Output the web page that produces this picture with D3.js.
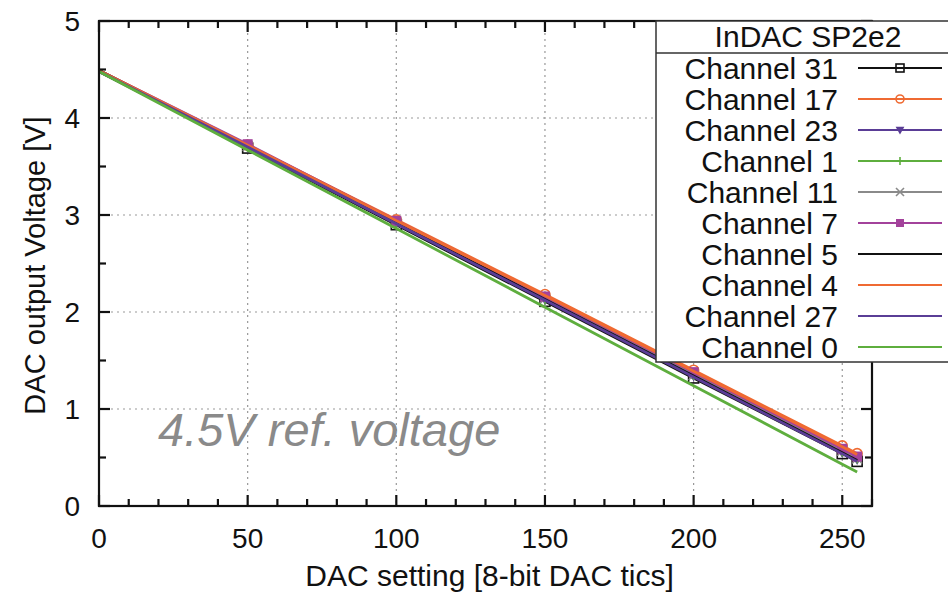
<!DOCTYPE html>
<html>
<head>
<meta charset="utf-8">
<script src="https://cdn.jsdelivr.net/npm/d3@7"></script>
<style>
  body { margin: 0; background: #fff; }
  svg { display: block; font-family: "Liberation Sans", Arial, Helvetica, sans-serif; }
</style>
</head>
<body>
<svg id="chart" width="948" height="595"></svg>
<script>
// DAC settings where the voltage was measured
const dacSettings = [0, 50, 100, 150, 200, 250, 255];

// measured output voltage [V] per channel, in legend order
const channelNames = ['Channel 31', 'Channel 17', 'Channel 23', 'Channel 1', 'Channel 11',
  'Channel 7', 'Channel 5', 'Channel 4', 'Channel 27', 'Channel 0'];
const ch31 = [4.49, 3.69, 2.90, 2.11, 1.32, 0.54, 0.46];
const ch17 = [4.49, 3.72, 2.95, 2.18, 1.40, 0.62, 0.54];
const ch23 = [4.48, 3.70, 2.91, 2.13, 1.34, 0.55, 0.48];
const ch1 = [4.48, 3.70, 2.92, 2.13, 1.35, 0.56, 0.49];
const ch11 = [4.49, 3.71, 2.92, 2.14, 1.35, 0.57, 0.49];
const ch7 = [4.49, 3.73, 2.94, 2.16, 1.38, 0.59, 0.51];
const ch5 = [4.49, 3.70, 2.92, 2.13, 1.34, 0.55, 0.47];
const ch4 = [4.49, 3.72, 2.94, 2.17, 1.39, 0.61, 0.53];
const ch27 = [4.48, 3.70, 2.91, 2.12, 1.33, 0.54, 0.46];
const ch0 = [4.48, 3.67, 2.86, 2.05, 1.24, 0.43, 0.35];
const channelValues = [ch31, ch17, ch23, ch1, ch11, ch7, ch5, ch4, ch27, ch0];

const xTicks = [0, 50, 100, 150, 200, 250];
const yTicks = [0, 1, 2, 3, 4, 5];

// styles (kept apart from the data)
const colors = ['#111111', '#ef6a32', '#5a3d96', '#5eae3e', '#8a8a8a', '#a3429b',
  '#111111', '#ef6a32', '#5a3d96', '#5eae3e'];
const markers = ['squareOpen', 'circleOpen', 'triangleDown', 'plus', 'cross', 'squareFilled',
  null, null, null, null];

const width = 948;
const height = 595;
const plot = { left: 99, right: 872, top: 21, bottom: 506 };

const svg = d3.select('#chart');

const x = d3.scaleLinear().domain([0, 260]).range([plot.left, plot.right]);
const y = d3.scaleLinear().domain([0, 5]).range([plot.bottom, plot.top]);

// dotted grid at major ticks
const grid = svg.append('g').attr('class', 'grid')
  .attr('stroke', '#999').attr('stroke-width', 1.2).attr('stroke-dasharray', '2,4');
grid.selectAll('.gx').data(xTicks.filter(d => d > 0))
  .enter().append('line')
  .attr('x1', d => x(d)).attr('x2', d => x(d))
  .attr('y1', plot.top).attr('y2', plot.bottom);
grid.selectAll('.gy').data(yTicks.filter(d => d > 0 && d < 5))
  .enter().append('line')
  .attr('x1', plot.left).attr('x2', plot.right)
  .attr('y1', d => y(d)).attr('y2', d => y(d));

// lines
const line = d3.line()
  .x((d, i) => x(dacSettings[i]))
  .y(d => y(d));

const series = channelNames.map((name, i) => ({ name, values: channelValues[i], color: colors[i], marker: markers[i] }));

function drawMarker(g, type, color, cx, cy, s) {
  if (type === 'squareOpen') {
    g.append('rect').attr('x', cx - s).attr('y', cy - s).attr('width', 2 * s).attr('height', 2 * s)
      .attr('fill', 'none').attr('stroke', color).attr('stroke-width', 1.6);
  } else if (type === 'squareFilled') {
    g.append('rect').attr('x', cx - s).attr('y', cy - s).attr('width', 2 * s).attr('height', 2 * s)
      .attr('fill', color);
  } else if (type === 'circleOpen') {
    g.append('circle').attr('cx', cx).attr('cy', cy).attr('r', s)
      .attr('fill', 'none').attr('stroke', color).attr('stroke-width', 1.6);
  } else if (type === 'triangleDown') {
    g.append('path').attr('d', `M${cx - s * 1.1},${cy - s * 0.8}L${cx + s * 1.1},${cy - s * 0.8}L${cx},${cy + s * 1.1}Z`)
      .attr('fill', color);
  } else if (type === 'plus') {
    g.append('path').attr('d', `M${cx - s},${cy}H${cx + s}M${cx},${cy - s}V${cy + s}`)
      .attr('stroke', color).attr('stroke-width', 1.6);
  } else if (type === 'cross') {
    g.append('path').attr('d', `M${cx - s},${cy - s}L${cx + s},${cy + s}M${cx - s},${cy + s}L${cx + s},${cy - s}`)
      .attr('stroke', color).attr('stroke-width', 1.6);
  }
}

const lines = svg.append('g').attr('class', 'lines');
series.forEach(s => {
  lines.append('path')
    .datum(s.values)
    .attr('fill', 'none')
    .attr('stroke', s.color)
    .attr('stroke-width', 2.8)
    .attr('d', line);
  if (s.marker) {
    const mg = lines.append('g');
    s.values.forEach((v, i) => {
      // points on the border are clipped, as in the original plot
      if (dacSettings[i] === 0) return;
      drawMarker(mg, s.marker, s.color, x(dacSettings[i]), y(v), 5);
    });
  }
});

// frame and ticks
const axes = svg.append('g').attr('class', 'axes').attr('stroke', '#111').attr('stroke-width', 2.2);
axes.append('rect')
  .attr('x', plot.left).attr('y', plot.top)
  .attr('width', plot.right - plot.left).attr('height', plot.bottom - plot.top)
  .attr('fill', 'none');

const xMinor = d3.range(0, 261, 10);
const yMinor = d3.range(0, 5.01, 0.5);
xMinor.forEach(v => {
  const len = v % 50 === 0 ? 11 : 7;
  axes.append('line').attr('x1', x(v)).attr('x2', x(v)).attr('y1', plot.bottom).attr('y2', plot.bottom - len);
  axes.append('line').attr('x1', x(v)).attr('x2', x(v)).attr('y1', plot.top).attr('y2', plot.top + len);
});
yMinor.forEach(v => {
  const len = Number.isInteger(v) ? 11 : 7;
  axes.append('line').attr('x1', plot.left).attr('x2', plot.left + len).attr('y1', y(v)).attr('y2', y(v));
  axes.append('line').attr('x1', plot.right).attr('x2', plot.right - len).attr('y1', y(v)).attr('y2', y(v));
});

// tick labels
svg.append('g').selectAll('text').data(xTicks).enter().append('text')
  .attr('x', d => x(d)).attr('y', 548)
  .attr('text-anchor', 'middle')
  .style('font-size', '28px')
  .attr('fill', '#111')
  .text(d => d);

svg.append('g').selectAll('text').data(yTicks).enter().append('text')
  .attr('x', 80).attr('y', d => y(d) + 10)
  .attr('text-anchor', 'end')
  .style('font-size', '28px')
  .attr('fill', '#111')
  .text(d => d);

// axis titles
svg.append('text')
  .attr('x', (plot.left + plot.right) / 2 + 4).attr('y', 586)
  .attr('text-anchor', 'middle')
  .style('font-size', '30px')
  .attr('fill', '#111')
  .text('DAC setting [8-bit DAC tics]');

svg.append('text')
  .attr('transform', `translate(45, ${(plot.top + plot.bottom) / 2 + 2}) rotate(-90)`)
  .attr('text-anchor', 'middle')
  .style('font-size', '29px')
  .attr('fill', '#111')
  .text('DAC output Voltage [V]');

// annotation
svg.append('text')
  .attr('x', 158).attr('y', 446)
  .style('font-size', '47px')
  .style('font-style', 'italic')
  .attr('fill', '#8a8a8a')
  .text('4.5V ref. voltage');

// legend
const legend = svg.append('g').attr('class', 'legend');
const legendLeft = 656;
const legendTop = 21;
const rowH = 31;
legend.append('rect')
  .attr('x', legendLeft).attr('y', legendTop)
  .attr('width', width - legendLeft + 10).attr('height', 362 - legendTop)
  .attr('fill', '#fff').attr('stroke', '#333').attr('stroke-width', 1.5);
legend.append('line')
  .attr('x1', legendLeft).attr('x2', width)
  .attr('y1', 53).attr('y2', 53)
  .attr('stroke', '#333').attr('stroke-width', 1.5);
legend.append('text')
  .attr('x', 808).attr('y', 47)
  .attr('text-anchor', 'middle')
  .style('font-size', '30px')
  .attr('fill', '#111')
  .text('InDAC SP2e2');

series.forEach((s, i) => {
  const cy = 68 + i * rowH;
  legend.append('text')
    .attr('x', 838).attr('y', cy + 11)
    .attr('text-anchor', 'end')
    .style('font-size', '30px')
    .attr('fill', '#111')
    .text(s.name);
  legend.append('line')
    .attr('x1', 858).attr('x2', 942)
    .attr('y1', cy).attr('y2', cy)
    .attr('stroke', s.color).attr('stroke-width', 2);
  if (s.marker) drawMarker(legend, s.marker, s.color, 900, cy, 4);
});
</script>
</body>
</html>
